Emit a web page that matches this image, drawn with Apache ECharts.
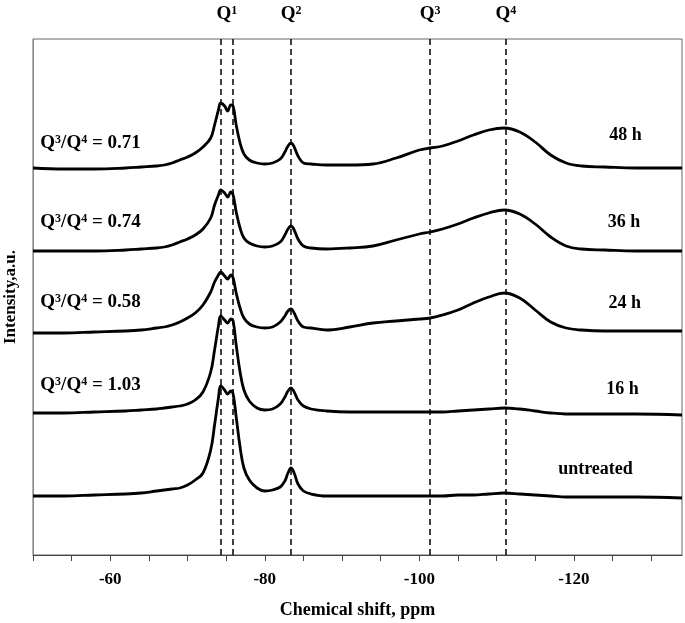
<!DOCTYPE html>
<html>
<head>
<meta charset="utf-8">
<script src="https://cdn.jsdelivr.net/npm/echarts@6/dist/echarts.min.js"></script>
<style>
	html, body { margin: 0; padding: 0; background: #fff; }
	#chart { width: 685px; height: 623px; }
</style>
</head>
<body>
<div id="chart"></div>
<script>
	// chemical shift (ppm) sample points, shared by all spectra
	var ppm = [-50, -54, -58, -62, -64, -66, -67, -68, -69, -70, -71, -72, -73, -73.5, -74, -74.3, -74.8, -75.2, -75.6, -75.9,
		-76.3, -76.8, -77.3, -78, -79, -80, -81, -82, -82.6, -83, -83.4, -83.8, -84.3, -85, -86, -88, -91, -94, -97, -100,
		-101.4, -103, -105, -107, -109, -111, -113, -115, -117, -119, -121, -124, -128, -134];

	// stacked intensities (a.u.)
	var untreated = [59, 59, 60, 61, 62, 64, 65, 66, 67, 70, 75, 82, 105, 130, 157, 169, 165, 161, 164, 161,
		138, 108, 87, 75, 67, 64, 65, 68, 74, 82, 87, 82, 71, 64, 61, 59, 59, 59, 59, 59,
		59, 59, 60, 60, 61, 62, 61, 60, 59, 58, 58, 58, 58, 57];
	var h16 = [142, 142, 143, 144, 145, 146, 147, 148, 149, 151, 155, 163, 183, 205, 229, 239, 235, 232, 236, 234,
		210, 183, 165, 154, 147, 145, 146, 151, 158, 164, 167, 163, 155, 149, 146, 144, 143, 143, 143, 143,
		143, 143, 144, 145, 146, 147, 146, 144, 142, 141, 141, 141, 141, 140];
	var h24 = [222, 222, 223, 224, 225, 227, 228, 230, 233, 237, 242, 250, 263, 273, 280, 283, 279, 276, 280, 277,
		262, 247, 237, 231, 228, 227, 228, 233, 239, 244, 246, 242, 234, 228, 227, 225, 228, 232, 234, 236,
		237, 240, 245, 252, 258, 262, 257, 245, 233, 227, 225, 224, 224, 224];
	var h36 = [304, 304, 304, 305, 306, 307, 308, 310, 313, 316, 320, 326, 337, 350, 360, 365, 362, 358, 363, 360,
		343, 327, 317, 312, 309, 308, 309, 313, 320, 326, 329, 325, 316, 309, 307, 306, 307, 309, 315, 321,
		323, 326, 331, 337, 342, 345, 341, 331, 318, 309, 306, 305, 304, 304];
	var h48 = [387, 386, 386, 387, 388, 389, 390, 392, 395, 398, 402, 408, 417, 430, 445, 452, 449, 444, 450, 449,
		430, 412, 401, 395, 392, 391, 392, 396, 403, 409, 412, 408, 399, 392, 391, 390, 390, 391, 397, 405,
		407, 409, 414, 420, 425, 427, 423, 413, 400, 392, 389, 388, 387, 387];

	// Q-site reference lines and their labels
	var qLines = [-74.3, -75.9, -83.4, -101.4, -111.2];
	var qNames = ['1', '2', '3', '4'];
	var qNameAt = [-75.1, -83.4, -101.4, -111.2];

	// Q3/Q4 ratio labels (left) and treatment time labels (right)
	var ratios = ['0.71', '0.74', '0.58', '1.03'];
	var ratioY = [412, 333, 253, 170];
	var times = ['48 h', '36 h', '24 h', '16 h', 'untreated'];
	var timeX = [-126.7, -126.5, -126.6, -126.3, -122.8];
	var timeY = [420, 333, 252, 166, 86];

	var xTicks = [];
	for (var t = -50; t >= -130; t -= 5) xTicks.push(t);
	var xLabels = [-60, -80, -100, -120];

	var font = "'Liberation Serif', 'Times New Roman', serif";
	var mychart = echarts.init(document.getElementById('chart'));

	function spectrum(vals, withLines) {
		var s = {
			type: 'line',
			data: ppm.map(function (p, i) { return [p, vals[i]]; }),
			showSymbol: false,
			smooth: 0.4,
			lineStyle: { color: '#000', width: 2.8 },
			silent: true,
			z: 3
		};
		if (withLines) {
			s.markLine = {
				silent: true,
				symbol: 'none',
				label: { show: false },
				lineStyle: { color: '#000', type: [6, 4], width: 1.5 },
				data: qLines.map(function (v) { return { xAxis: v }; }),
				z: 2
			};
		}
		return s;
	}

	var option = {
		animation: false,
		backgroundColor: '#fff',
		grid: {
			left: 33, right: 3, top: 39, bottom: 68,
			outerBoundsMode: 'none',
			containLabel: false,
			show: true, borderColor: '#666', borderWidth: 1
		},
		xAxis: {
			type: 'value',
			inverse: true,
			min: -134,
			max: -50,
			name: 'Chemical shift, ppm',
			nameLocation: 'middle',
			nameGap: 46,
			nameTextStyle: { fontFamily: font, fontWeight: 'bold', fontSize: 18, color: '#000' },
			splitLine: { show: false },
			axisLine: { lineStyle: { color: '#444', width: 1 } },
			axisTick: { customValues: xTicks, length: 6, lineStyle: { color: '#444' } },
			axisLabel: {
				customValues: xLabels,
				margin: 16,
				fontFamily: font, fontWeight: 'bold', fontSize: 17, color: '#000'
			}
		},
		yAxis: {
			type: 'value',
			min: 0,
			max: 516,
			name: 'Intensity,a.u.',
			nameLocation: 'middle',
			nameGap: 14,
			nameTextStyle: { fontFamily: font, fontWeight: 'bold', fontSize: 17, color: '#000' },
			axisLine: { show: true, lineStyle: { color: '#888' } },
			axisTick: { show: false },
			axisLabel: { show: false },
			splitLine: { show: false }
		},
		series: [
			spectrum(untreated, true),
			spectrum(h16),
			spectrum(h24),
			spectrum(h36),
			spectrum(h48)
		]
	};
	mychart.setOption(option);

	// annotations placed through the axis scales
	var bold = { fontFamily: font, fontWeight: 'bold', fontSize: 19, fill: '#000' };
	var sup = { fontFamily: font, fontWeight: 'bold', fontSize: 12, fill: '#000', verticalAlign: 'top' };
	var graphics = [];
	qNames.forEach(function (n, i) {
		var px = mychart.convertToPixel({ gridIndex: 0 }, [qNameAt[i], 0]);
		graphics.push({
			type: 'text', x: px[0], y: 14,
			style: { text: '{b|Q}{s|' + n + '}', align: 'center', verticalAlign: 'middle', rich: { b: bold, s: sup } }
		});
	});
	ratios.forEach(function (r, i) {
		var px = mychart.convertToPixel({ gridIndex: 0 }, [-50.95, ratioY[i]]);
		graphics.push({
			type: 'text', x: px[0], y: px[1],
			style: { text: '{b|Q}{s|3}{b|/Q}{s|4}{b| = ' + r + '}', align: 'left', verticalAlign: 'middle', rich: { b: bold, s: sup } }
		});
	});
	times.forEach(function (s, i) {
		var px = mychart.convertToPixel({ gridIndex: 0 }, [timeX[i], timeY[i]]);
		graphics.push({
			type: 'text', x: px[0], y: px[1],
			style: { text: s, align: 'center', verticalAlign: 'middle', fontFamily: font, fontWeight: 'bold', fontSize: 18, fill: '#000' }
		});
	});
	mychart.setOption({ graphic: graphics });

	window.addEventListener('resize', function () {
		mychart.resize();
	});
</script>
</body>
</html>
